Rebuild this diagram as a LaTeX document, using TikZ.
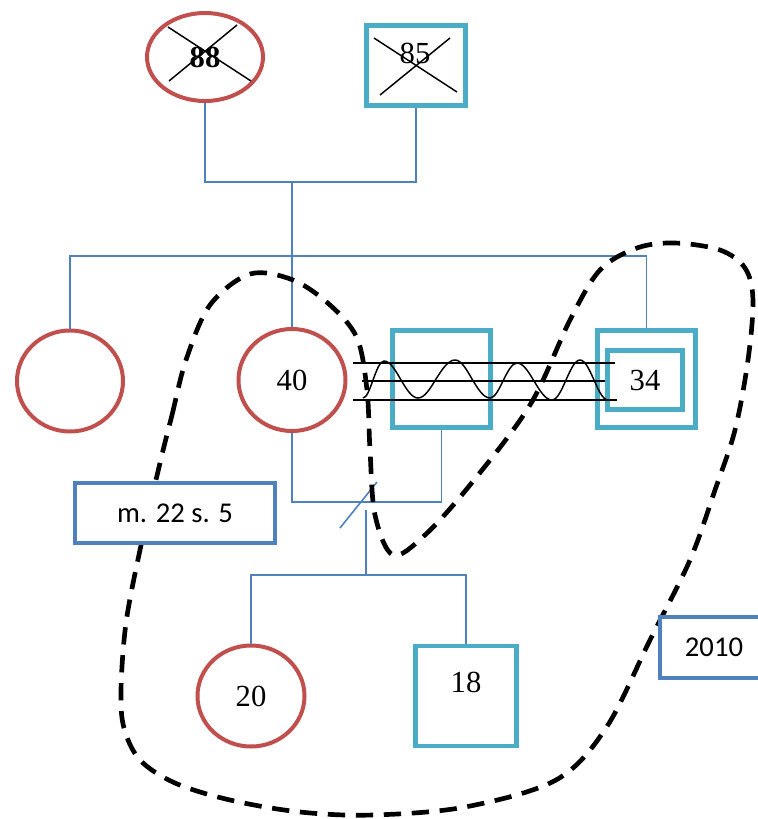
\documentclass[tikz,border=0pt]{standalone}
\usepackage{fontspec}
\setmainfont{Liberation Serif}
\newfontfamily\calibri{Carlito}
\usetikzlibrary{shapes.geometric}
\definecolor{fem}{HTML}{C0504D}
\definecolor{mal}{HTML}{4BACC6}
\definecolor{lin}{HTML}{4F81BD}
\begin{document}
\begin{tikzpicture}[x=.75pt,y=-.75pt,
        female/.style={ellipse,draw=fem,line width=3pt,fill=white,inner sep=0pt,font=\fontsize{23}{26}\selectfont},
        male/.style={rectangle,draw=mal,line width=3.5pt,fill=white,inner sep=0pt,font=\fontsize{23}{26}\selectfont},
        note/.style={rectangle,draw=lin,line width=3pt,fill=white,inner sep=0pt,font=\calibri\fontsize{21.5}{24}\selectfont},
        link/.style={draw=lin,line width=1.2pt}]
\useasboundingbox (0,0) rectangle (758,819);
\clip (0,0) rectangle (758,819);

% grandparents
\node[female,minimum width=87pt,minimum height=66pt,font=\fontsize{23}{26}\selectfont\bfseries] (f88) at (205,57) {88};
\node[male,minimum width=74pt,minimum height=60pt] (m85) at (416,65.5) {};
\node[font=\fontsize{23}{26}\selectfont] (t85) at (415,53) {85};
\draw[line width=1.1pt] (168,27)--(251,81) (237,25)--(169,81);
\draw[line width=1.1pt] (374,38)--(457,92) (450,38)--(380,95);

% children
\node[female,minimum width=79.5pt,minimum height=75.75pt] (fL) at (70,381) {};
\node[female,minimum width=80.25pt,minimum height=76.5pt] (f40) at (292,380) {40};
\node[male,minimum width=73.5pt,minimum height=72.75pt] (mMid) at (441.5,379) {};
\node[male,minimum width=73.5pt,minimum height=72.75pt] (m34) at (646.5,379) {};
\node[male,minimum width=56.25pt,minimum height=44.25pt] (i34) at (645,380) {34};

% grandchildren
\node[female,minimum width=80.25pt,minimum height=75.75pt] (f20) at (251,696) {20};
\node[male,minimum width=75.75pt,minimum height=75pt] (m18) at (466,696) {};
\node[font=\fontsize{23}{26}\selectfont] (t18) at (466,682) {18};

\coordinate (p1) at (292,182);
\coordinate (p2) at (292,256);
\coordinate (p3) at (366,502);
\coordinate (p4) at (366,510);
\coordinate (p5) at (366,575);
\draw[link] (f88.south) |- (p1) -| (m85.south);
\draw[link] (p1) -- (f40.north);
\draw[link] (fL.north) |- (p2) -| (m34.north);
\draw[link] (f40.south) |- (p3) -| (mMid.south);
\draw[link] (p4) -- (p5);
\draw[link] (f20.north) |- (p5) -| (m18.north);
\draw[link] (340,528) -- (377,482);

% hostile relation
\foreach \y/\a/\b in {363/353/615,381/362/605,400/353/617}
{
    \draw[line width=1.1pt] (\a,\y)--(\b,\y);
}
\draw[line width=1.1pt] (363,398) cos (373,380) sin (384,361) cos (401,380) sin (418,398)
    cos (436,379) sin (455,360) cos (472,379) sin (490,398)
    cos (503,381) sin (517,363) cos (534,381) sin (552,400)
    cos (566,380) sin (580,360) cos (594,380) sin (608,400);

% household
\draw[line width=3.5pt,dash pattern=on 13pt off 8pt] plot[smooth cycle,tension=.55] coordinates {
    (160,463) (172,415) (186,360) (210,305) (250,274) (293,280) (330,305) (357,338) (367,390)
    (370,450) (375,515) (393,555) (425,535) (470,485) (530,405) (570,320) (600,270) (637,248)
    (675,243) (720,250) (745,268) (753,300) (748,360) (735,430) (715,490) (690,560) (650,640)
    (606,728) (556,780) (465,807) (373,815) (300,812) (230,800) (175,783) (140,760) (124,728)
    (121,690) (126,623) (140,550)};

\node[note,minimum width=150pt,minimum height=45pt] (n1) at (175,513) {m. 22 s. 5};
\node[note,minimum width=81pt,minimum height=45.75pt] (n2) at (714,647.5) {2010};
\end{tikzpicture}
\end{document}
